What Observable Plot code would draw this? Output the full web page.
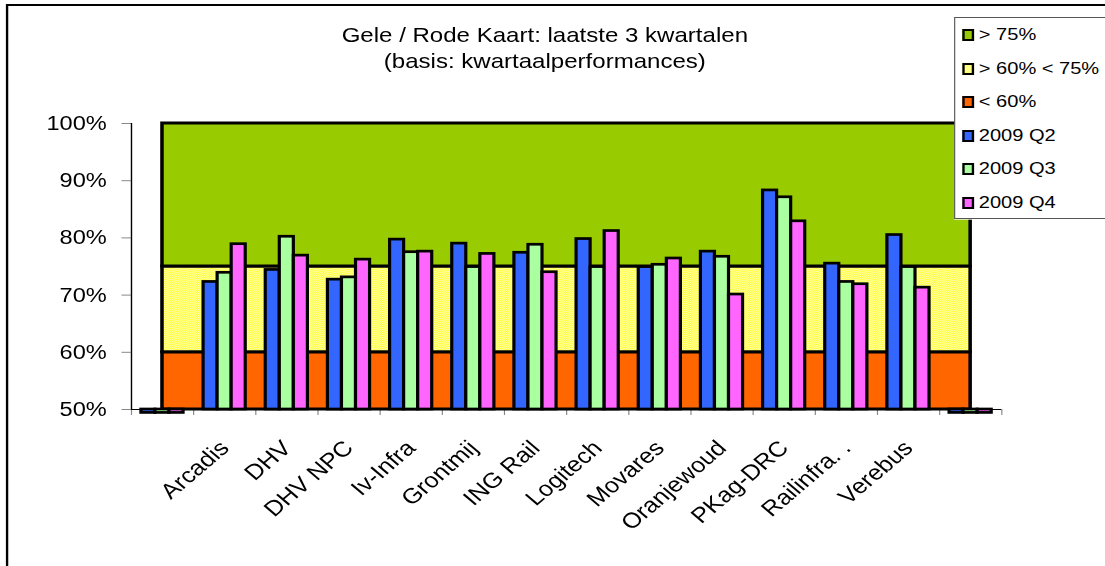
<!DOCTYPE html>
<html><head><meta charset="utf-8">
<script src="https://cdn.jsdelivr.net/npm/d3@7"></script>
<script src="https://cdn.jsdelivr.net/npm/@observablehq/plot@0.6"></script>
<style>
html,body{margin:0;padding:0;background:#fff;overflow:hidden;}
#wrap{position:relative;width:937px;height:566px;transform:scaleX(1.1793);transform-origin:0 0;overflow:hidden;font-family:"Liberation Sans",Arial,sans-serif;color:#000;}
#frame{position:absolute;left:5px;top:4px;width:2000px;height:2000px;border:2px solid #000;}
#chart{position:absolute;left:0;top:0;}
#title{position:absolute;left:212px;width:500px;top:22px;text-align:center;font-size:20.4px;line-height:26px;z-index:2;}
#legend{position:absolute;left:809px;top:17px;width:300px;height:200px;border:1px solid #555;background:#fff;z-index:3;}
.li{position:absolute;left:0;height:20px;font-size:17px;line-height:20px;white-space:nowrap;}
.sw{position:absolute;left:6px;top:4px;width:6px;height:8px;border:2px solid #000;}
.lt{position:absolute;left:20px;top:0;}
g[aria-label="x-axis tick"], g[aria-label="y-axis tick"]{stroke:#888;}
</style>
</head><body>
<svg width="0" height="0" style="position:absolute">
  <defs>
    <pattern id="chk" width="2" height="2" patternUnits="userSpaceOnUse">
      <rect width="2" height="2" fill="#ffffb0"/>
      <rect width="1" height="1" fill="#ffff33"/>
      <rect x="1" y="1" width="1" height="1" fill="#ffff33"/>
    </pattern>
  </defs>
</svg>
<div id="wrap">
  <div id="frame"></div>
  <div id="chart"></div>
  <div id="title">Gele / Rode Kaart: laatste 3 kwartalen<br>(basis: kwartaalperformances)</div>
  <div id="legend"></div>
</div>
<script>
// ---- data ----
const categories = ["", "Arcadis", "DHV", "DHV NPC", "Iv-Infra", "Grontmij", "ING Rail", "Logitech", "Movares", "Oranjewoud", "PKag-DRC", "Railinfra. .", "Verebus", ""];
const seriesNames = ["2009 Q2", "2009 Q3", "2009 Q4"];
const q2 = [49.4, 72.3, 74.4, 72.7, 79.7, 79.0, 77.4, 79.8, 74.9, 77.6, 88.3, 75.5, 80.5, 49.4];
const q3 = [49.4, 73.9, 80.2, 73.1, 77.5, 74.9, 78.8, 74.9, 75.3, 76.7, 87.1, 72.3, 74.9, 49.4];
const q4 = [49.4, 78.9, 76.9, 76.2, 77.6, 77.2, 74.0, 81.2, 76.4, 70.1, 82.9, 71.9, 71.3, 49.4];
const bandNames = ["< 60%", "> 60% < 75%", "> 75%"];
const bandValues = [60, 15, 25];
const yTicks = [50, 60, 70, 80, 90, 100];

// ---- styles ----
const seriesColors = ["#3366ff", "#aaffa0", "#ff66ff"];
const bandColors = ["#ff6600", "url(#chk)", "#99cc00"];
const bandLegendColors = ["#ff6600", "#ffff80", "#99cc00"];
const yMin = 50;

const series = [q2, q3, q4];
const nCat = categories.length;
const barW = 0.226;
const barPad = (1 - 3 * barW) / 2;

const tops = d3.cumsum(bandValues);
const bandRows = bandValues.map((v, i) => ({
  name: bandNames[i],
  lo: Math.max(yMin, i === 0 ? 0 : tops[i - 1]),
  hi: tops[i]
}));

const marks = [];
bandRows.forEach((b, i) => {
  marks.push(Plot.rectY([b], {x1: 0.5, x2: nCat - 0.5, y1: "lo", y2: "hi", fill: bandColors[i], stroke: "#000", strokeWidth: 3}));
});
series.forEach((vals, q) => {
  const rows = vals.map((v, i) => ({cat: i, value: v}));
  marks.push(Plot.rectY(rows, {
    x1: d => d.cat + barPad + q * barW,
    x2: d => d.cat + barPad + (q + 1) * barW,
    y1: yMin, y2: "value",
    fill: seriesColors[q], stroke: "#000", strokeWidth: 2.7
  }));
});
marks.push(Plot.ruleY([yMin], {stroke: "#000", strokeWidth: 1.2}));
marks.push(Plot.ruleX([0], {stroke: "#000", strokeWidth: 1.2}));
const labelRows = categories.map((c, i) => ({i, name: c})).filter(d => d.name);
marks.push(Plot.text(labelRows, {
  x: d => d.i + 0.5, y: yMin, text: "name", rotate: -45, textAnchor: "end",
  dx: 0, dy: 35, fontSize: 21.5, fill: "#000"
}));

const chart = Plot.plot({
  width: 937, height: 566,
  marginLeft: 111, marginRight: 88, marginTop: 123, marginBottom: 157,
  style: {fontFamily: "'Liberation Sans', Arial, sans-serif", fontSize: "20px", background: "transparent", overflow: "visible", color: "#000"},
  x: {domain: [0, nCat], ticks: d3.range(nCat + 1), tickFormat: () => "", tickSize: 6, label: null},
  y: {domain: [yMin, 100], ticks: yTicks, tickFormat: d => d + "%", tickSize: 8, tickPadding: 13, label: null},
  marks
});
document.getElementById("chart").appendChild(chart);

// ---- legend ----
const legend = document.getElementById("legend");
const legendItems = [
  {name: bandNames[2], color: bandLegendColors[2]},
  {name: bandNames[1], color: bandLegendColors[1]},
  {name: bandNames[0], color: bandLegendColors[0]},
  ...seriesNames.map((n, i) => ({name: n, color: seriesColors[i]}))
];
legendItems.forEach((it, i) => {
  const d = document.createElement("div");
  d.className = "li";
  d.style.top = (7 + 33.6 * i) + "px";
  const sw = document.createElement("div");
  sw.className = "sw";
  sw.style.background = it.color;
  const t = document.createElement("div");
  t.className = "lt";
  t.textContent = it.name;
  d.appendChild(sw); d.appendChild(t);
  legend.appendChild(d);
});
</script>
</body></html>
